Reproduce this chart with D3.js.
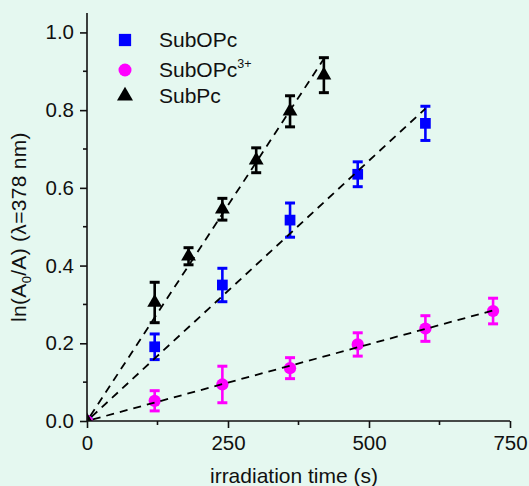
<!DOCTYPE html>
<html>
<head>
<meta charset="utf-8">
<script src="https://cdn.jsdelivr.net/npm/d3@7"></script>
<style>
  body { margin: 0; background: #e5f8f0; }
  svg { display: block; font-family: "Liberation Sans", Arial, sans-serif; }
  .axis path, .axis line { stroke: #111; stroke-width: 1.6; }
  .axis text { font-size: 20.5px; fill: #111; font-family: "Liberation Sans", Arial, sans-serif; }
</style>
</head>
<body>
<svg id="chart" width="529" height="486"></svg>
<script>
// data
const seriesNames = ['SubOPc', 'SubOPc3+', 'SubPc']
const timeSubOPc = [0, 120, 240, 360, 480, 600]
const valSubOPc = [0, 0.191, 0.350, 0.517, 0.635, 0.766]
const errSubOPc = [0, 0.033, 0.043, 0.044, 0.032, 0.044]
const timeSubOPc3 = [0, 120, 240, 360, 480, 600, 720]
const valSubOPc3 = [0, 0.052, 0.094, 0.136, 0.197, 0.238, 0.283]
const errSubOPc3 = [0, 0.026, 0.047, 0.027, 0.030, 0.033, 0.033]
const timeSubPc = [0, 120, 180, 240, 300, 360, 420]
const valSubPc = [0, 0.305, 0.424, 0.545, 0.671, 0.797, 0.890]
const errSubPc = [0, 0.052, 0.022, 0.028, 0.032, 0.040, 0.045]
const fitSlopes = [0.00134, 0.000395, 0.00222]
const fitEnds = [600, 720, 420]
const xTicks = [0, 250, 500, 750]
const xMinor = [125, 375, 625]
const yTicks = [0, 0.2, 0.4, 0.6, 0.8, 1.0]
const yMinor = [0.1, 0.3, 0.5, 0.7, 0.9]

const W = 529, H = 486
const m = {left: 87, right: 19, top: 13, bottom: 65}
const x = d3.scaleLinear().domain([0, 750]).range([m.left, W - m.right])
const y = d3.scaleLinear().domain([0, 1.05]).range([H - m.bottom, m.top])

const svg = d3.select('#chart')

const colors = ['#0000ff', '#ff00ff', '#000000']
const shapes = [d3.symbolSquare, d3.symbolCircle, d3.symbolTriangle]
const sizes = [115, 118, 95]
const series = [
    {t: timeSubOPc, v: valSubOPc, e: errSubOPc},
    {t: timeSubOPc3, v: valSubOPc3, e: errSubOPc3},
    {t: timeSubPc, v: valSubPc, e: errSubPc}
].map((s, i) => ({name: seriesNames[i], color: colors[i], shape: shapes[i], size: sizes[i],
    pts: s.t.map((t, j) => ({t: t, v: s.v[j], e: s.e[j]}))}))

svg.append('clipPath').attr('id', 'plot-clip')
    .append('rect').attr('x', m.left).attr('y', m.top)
    .attr('width', W - m.left - m.right).attr('height', H - m.top - m.bottom)

const plot = svg.append('g').attr('clip-path', 'url(#plot-clip)')

/* Error bars */
series.forEach(s => {
    const g = plot.append('g').attr('stroke', s.color).attr('stroke-width', 2.6)
    const eb = s.pts.filter(p => p.e > 0)
    g.selectAll('.eb').data(eb).enter().append('line')
        .attr('x1', p => x(p.t)).attr('x2', p => x(p.t))
        .attr('y1', p => y(p.v - p.e)).attr('y2', p => y(p.v + p.e))
    g.selectAll('.cap').data(eb.flatMap(p => [p.v - p.e, p.v + p.e].map(v => ({t: p.t, v: v})))).enter()
        .append('line')
        .attr('x1', p => x(p.t) - 5).attr('x2', p => x(p.t) + 5)
        .attr('y1', p => y(p.v)).attr('y2', p => y(p.v))
        .attr('stroke-width', 3)
})

/* Markers */
series.forEach(s => {
    plot.append('g').selectAll('path').data(s.pts).enter().append('path')
        .attr('d', d3.symbol().type(s.shape).size(s.size))
        .attr('transform', p => `translate(${x(p.t)},${y(p.v)})`)
        .attr('fill', s.color)
})

/* Fit lines */
plot.selectAll('.fit').data(fitSlopes).enter().append('line')
    .attr('x1', x(0)).attr('y1', y(0))
    .attr('x2', (k, i) => x(fitEnds[i])).attr('y2', (k, i) => y(k * fitEnds[i]))
    .attr('stroke', '#000').attr('stroke-width', 1.8).attr('stroke-dasharray', '8,6')
    .attr('stroke-dashoffset', -6)

/* Axes */
const gx = svg.append('g').attr('class', 'axis').attr('transform', `translate(0,${y(0)})`)
    .call(d3.axisBottom(x).tickValues(xTicks).tickFormat(d3.format('d')).tickSize(7).tickPadding(7).tickSizeOuter(0))
gx.append('g').selectAll('line').data(xMinor).enter().append('line')
    .attr('x1', d => x(d)).attr('x2', d => x(d)).attr('y1', 0).attr('y2', 4)
gx.select('.domain').attr('d', `M${x(0)},0H${x(750)}`)

const gy = svg.append('g').attr('class', 'axis').attr('transform', `translate(${x(0)},0)`)
    .call(d3.axisLeft(y).tickValues(yTicks).tickFormat(d3.format('.1f')).tickSize(7).tickPadding(6).tickSizeOuter(0))
gy.append('g').selectAll('line').data(yMinor).enter().append('line')
    .attr('y1', d => y(d)).attr('y2', d => y(d)).attr('x1', 0).attr('x2', -4)
gy.select('.domain').attr('d', `M0,${y(0)}V${y(1.05)}`)

/* Axis titles */
svg.append('text').attr('x', 294).attr('y', 483).attr('text-anchor', 'middle')
    .attr('font-size', 21).attr('fill', '#111').text('irradiation time (s)')

const yt = svg.append('text').attr('transform', `translate(26,227) rotate(-90)`)
    .attr('text-anchor', 'middle').attr('font-size', 21).attr('fill', '#111')
    .attr('letter-spacing', 0.3)
yt.append('tspan').text('ln(A')
yt.append('tspan').attr('font-size', 13).attr('dy', 5).text('0')
yt.append('tspan').attr('dy', -5).text('/A) (λ=378 nm)')

/* Legend */
const leg = svg.append('g')
const legY = [40, 70, 96], legBase = [47.3, 77.3, 103.3]
const legSizes = [150, 133, 111]
series.forEach((s, i) => {
    leg.append('path').attr('d', d3.symbol().type(s.shape).size(legSizes[i]))
        .attr('transform', `translate(125,${legY[i]})`).attr('fill', s.color)
    const t = leg.append('text').attr('x', 159).attr('y', legBase[i]).attr('font-size', 21).attr('fill', '#111')
    if (s.name === 'SubOPc3+') {
        t.append('tspan').text('SubOPc')
        t.append('tspan').attr('font-size', 12.5).attr('dy', -9).text('3+')
    } else t.text(s.name)
})
</script>
</body>
</html>
